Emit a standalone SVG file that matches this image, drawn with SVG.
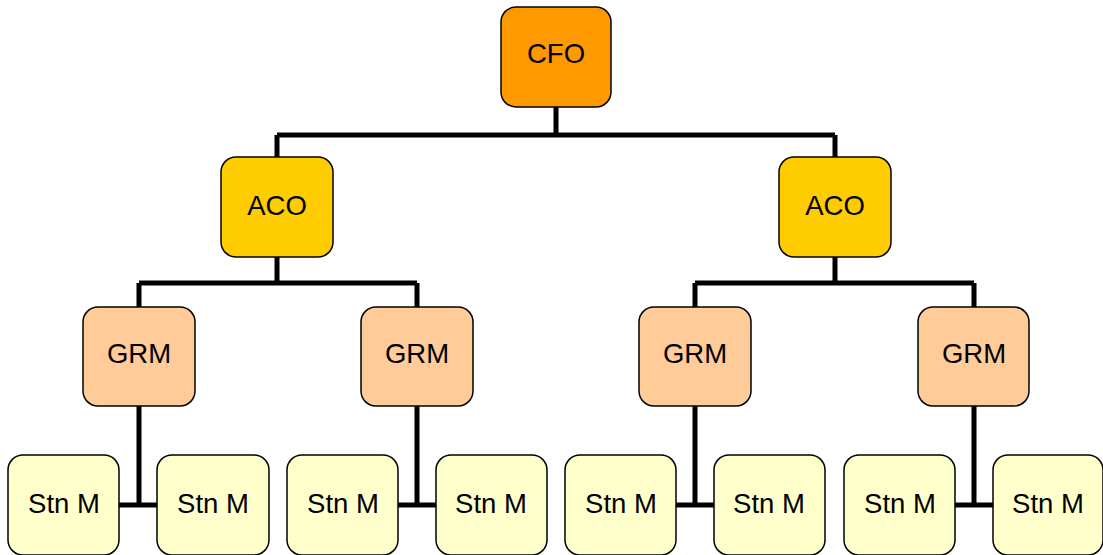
<svg xmlns="http://www.w3.org/2000/svg" width="1103" height="555" viewBox="0 0 1103 555">
  <style>
    .box { stroke: #000; stroke-width: 1.5; }
    .cfo { fill: #FF9900; }
    .aco { fill: #FFCC00; }
    .grm { fill: #FFCC99; }
    .stn { fill: #FFFFCC; }
    .lbl { font-family: "Liberation Sans", Arial, sans-serif; font-size: 27.5px; fill: #000; text-anchor: middle; dominant-baseline: central; }
    .wire { fill: none; stroke: #000; stroke-width: 5; stroke-linecap: butt; }
  </style>
  <rect width="1103" height="555" fill="#fff"/>

  <!-- connectors -->
  <g id="connectors">
    <path class="wire" d="M556,107 V135 M277,135 H835 M277,135 V157 M835,135 V157"/>
    <path class="wire" d="M277,257 V283 M139,283 H417 M139,283 V307 M417,283 V307"/>
    <path class="wire" d="M835,257 V283 M695,283 H974 M695,283 V307 M974,283 V307"/>
    <path class="wire" d="M139,406 V505 M119,505 H157"/>
    <path class="wire" d="M417,406 V505 M398,505 H436"/>
    <path class="wire" d="M695,406 V505 M676,505 H714"/>
    <path class="wire" d="M974,406 V505 M955,505 H993"/>
  </g>

  <g id="cfo">
    <rect class="box cfo" x="501" y="7" width="110" height="100" rx="15"/>
    <text class="lbl" x="556" y="53">CFO</text>
  </g>

  <g id="aco-left">
    <rect class="box aco" x="221" y="157" width="112" height="100" rx="15"/>
    <text class="lbl" x="277" y="205">ACO</text>
  </g>
  <g id="aco-right">
    <rect class="box aco" x="779" y="157" width="112" height="100" rx="15"/>
    <text class="lbl" x="835" y="205">ACO</text>
  </g>

  <g id="grm-1">
    <rect class="box grm" x="83" y="307" width="112" height="99" rx="15"/>
    <text class="lbl" x="139" y="353">GRM</text>
  </g>
  <g id="grm-2">
    <rect class="box grm" x="361" y="307" width="112" height="99" rx="15"/>
    <text class="lbl" x="417" y="353">GRM</text>
  </g>
  <g id="grm-3">
    <rect class="box grm" x="639" y="307" width="112" height="99" rx="15"/>
    <text class="lbl" x="695" y="353">GRM</text>
  </g>
  <g id="grm-4">
    <rect class="box grm" x="918" y="307" width="111" height="99" rx="15"/>
    <text class="lbl" x="974" y="353">GRM</text>
  </g>

  <g id="stn-1">
    <rect class="box stn" x="8" y="455" width="111" height="100" rx="15"/>
    <text class="lbl" x="64" y="503">Stn M</text>
  </g>
  <g id="stn-2">
    <rect class="box stn" x="157" y="455" width="112" height="100" rx="15"/>
    <text class="lbl" x="213" y="503">Stn M</text>
  </g>
  <g id="stn-3">
    <rect class="box stn" x="287" y="455" width="111" height="100" rx="15"/>
    <text class="lbl" x="343" y="503">Stn M</text>
  </g>
  <g id="stn-4">
    <rect class="box stn" x="436" y="455" width="111" height="100" rx="15"/>
    <text class="lbl" x="491" y="503">Stn M</text>
  </g>
  <g id="stn-5">
    <rect class="box stn" x="565" y="455" width="111" height="100" rx="15"/>
    <text class="lbl" x="621" y="503">Stn M</text>
  </g>
  <g id="stn-6">
    <rect class="box stn" x="714" y="455" width="111" height="100" rx="15"/>
    <text class="lbl" x="769" y="503">Stn M</text>
  </g>
  <g id="stn-7">
    <rect class="box stn" x="844" y="455" width="111" height="100" rx="15"/>
    <text class="lbl" x="900" y="503">Stn M</text>
  </g>
  <g id="stn-8">
    <rect class="box stn" x="993" y="455" width="110" height="100" rx="15"/>
    <text class="lbl" x="1048" y="503">Stn M</text>
  </g>
</svg>
